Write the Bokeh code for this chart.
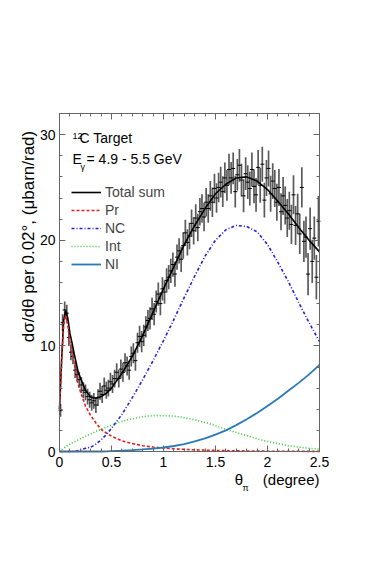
from math import pi
from bokeh.plotting import figure
from bokeh.models import (Range1d, LinearAxis, SingleIntervalTicker, Label,
                          Legend, LegendItem)
from bokeh.embed import file_html
from bokeh.resources import INLINE

FONT = "Liberation Sans"

# ---------------- data ----------------
x_tick_vals = [0, 0.5, 1, 1.5, 2, 2.5]
x_tick_labels = ["0", "0.5", "1", "1.5", "2", "2.5"]
y_tick_vals = [0, 10, 20, 30]
y_tick_labels = ["0", "10", "20", "30"]
x_lim = (0, 2.5)
y_lim = (0, 32)

bin_width = 0.02
data_val = [
    3.9, 12.2, 13.4, 13.1, 10.8, 9.4, 9.0, 7.7, 7.3, 6.8,
    6.3, 5.8, 5.6, 5.2, 4.9, 4.6, 4.8, 4.4, 5.1, 5.7,
    5.4, 6.2, 5.8, 6.0, 6.6, 6.4, 6.9, 7.5, 6.9, 7.8,
    7.5, 8.4, 8.1, 7.7, 9.0, 9.3, 8.6, 10.3, 10.9, 10.4,
    11.0, 11.8, 12.4, 12.6, 13.5, 13.0, 14.2, 14.9, 14.0, 15.4,
    15.1, 16.2, 16.5, 17.1, 17.7, 16.8, 18.4, 19.0, 18.2, 19.5,
    20.7, 19.8, 20.4, 21.6, 20.9, 22.1, 21.2, 22.7, 23.0, 22.2,
    23.6, 23.0, 24.2, 23.6, 24.9, 24.0, 25.0, 25.5, 24.6, 25.9,
    25.2, 26.7, 25.9, 26.8, 24.6, 26.2, 27.1, 25.7, 24.2, 26.3,
    25.5, 24.9, 26.7, 25.1, 24.3, 26.9, 25.2, 27.2, 23.8, 25.9,
    26.8, 24.4, 25.6, 24.9, 23.6, 25.0, 22.7, 24.2, 23.3, 22.1,
    22.8, 21.5, 24.3, 21.4, 22.5, 20.6, 25.0, 19.9, 20.3, 16.8,
    21.1, 18.0, 20.2, 16.5, 21.8,
]
data_err = [
    0.6, 0.8, 0.8, 0.8, 0.8, 0.75, 0.75, 0.75, 0.75, 0.75,
    0.75, 0.75, 0.75, 0.75, 0.75, 0.75, 0.75, 0.75, 0.8, 0.8,
    0.8, 0.8, 0.8, 0.8, 0.85, 0.85, 0.85, 0.85, 0.85, 0.9,
    0.9, 0.9, 0.9, 0.9, 0.95, 0.95, 0.95, 0.95, 1.0, 1.0,
    1.0, 1.0, 1.0, 1.05, 1.05, 1.05, 1.05, 1.1, 1.1, 1.1,
    1.1, 1.15, 1.15, 1.15, 1.15, 1.2, 1.2, 1.2, 1.2, 1.25,
    1.25, 1.25, 1.25, 1.3, 1.3, 1.3, 1.3, 1.3, 1.35, 1.35,
    1.35, 1.35, 1.4, 1.4, 1.4, 1.4, 1.4, 1.45, 1.45, 1.45,
    1.45, 1.5, 1.5, 1.5, 1.5, 1.5, 1.55, 1.55, 1.55, 1.55,
    1.6, 1.6, 1.6, 1.6, 1.6, 1.65, 1.65, 1.65, 1.65, 1.7,
    1.7, 1.7, 1.7, 1.75, 1.75, 1.75, 1.75, 1.8, 1.8, 1.8,
    1.8, 1.85, 1.85, 1.85, 1.9, 1.9, 1.9, 1.95, 1.95, 2.0,
    2.0, 2.05, 2.05, 2.1, 2.4,
]

curve_x = [0, 0.02, 0.04, 0.06, 0.08, 0.10, 0.12, 0.14, 0.16, 0.18, 0.20,
           0.25, 0.30, 0.35, 0.40, 0.45, 0.50, 0.6, 0.7, 0.8, 0.9, 1.0,
           1.1, 1.2, 1.3, 1.4, 1.5, 1.6, 1.7, 1.8, 1.9, 2.0, 2.1, 2.2,
           2.3, 2.4, 2.5]
total_sum = [4.0, 8.6, 12.4, 13.35, 12.6, 11.2, 10.3, 9.3, 8.4, 7.5, 7.0,
             5.8, 5.15, 5.05, 5.2, 5.5, 6.0, 7.4, 9.0, 11.0, 13.2, 15.4,
             17.5, 19.6, 21.4, 23.0, 24.4, 25.3, 25.9, 26.0, 25.6, 24.8,
             23.7, 22.5, 21.2, 20.0, 18.9]
pr = [4.0, 8.4, 12.0, 12.9, 11.9, 10.4, 9.4, 8.4, 7.4, 6.4, 5.7,
      4.3, 3.4, 2.7, 2.1, 1.75, 1.45, 1.0, 0.75, 0.55, 0.42, 0.33,
      0.26, 0.2, 0.16, 0.13, 0.1, 0.08, 0.06, 0.05, 0.04, 0.03, 0.03,
      0.02, 0.02, 0.01, 0.01]
nc = [0, 0, 0, 0, 0, 0, 0, 0.02, 0.05, 0.1, 0.15,
      0.3, 0.4, 0.7, 1.1, 1.6, 2.2, 3.5, 5.1, 6.8, 8.6, 10.5,
      12.5, 14.6, 16.6, 18.5, 20.0, 21.0, 21.4, 21.3, 20.8, 19.6,
      17.9, 16.1, 14.1, 12.2, 10.4]
intf = [0, 0.15, 0.3, 0.45, 0.6, 0.7, 0.8, 0.9, 1.0, 1.1, 1.2,
        1.45, 1.65, 1.9, 2.1, 2.3, 2.5, 2.85, 3.1, 3.3, 3.4, 3.4,
        3.35, 3.2, 3.0, 2.75, 2.45, 2.1, 1.8, 1.5, 1.2, 0.95,
        0.75, 0.55, 0.42, 0.3, 0.22]
ni = [0, 0, 0, 0, 0, 0, 0, 0, 0, 0, 0,
      0, 0, 0, 0, 0.02, 0.04, 0.08, 0.13, 0.2, 0.28, 0.38,
      0.52, 0.7, 0.95, 1.25, 1.6, 2.0, 2.5, 3.05, 3.65, 4.3,
      5.0, 5.75, 6.5, 7.3, 8.2]

data_x = [bin_width * (i + 0.5) for i in range(len(data_val))]
data_lo = [v - e for v, e in zip(data_val, data_err)]
data_hi = [v + e for v, e in zip(data_val, data_err)]

# ---------------- layout (pixels) ----------------
W, H = 358, 565
PX_X = 104.0      # pixels per degree
PX_Y = 10.5625    # pixels per unit
LEFT, TOP = 59, 113
xr = Range1d(x_lim[0] - LEFT / PX_X, x_lim[0] + (W - LEFT) / PX_X)
yr = Range1d(y_lim[1] - (H - TOP) / PX_Y, y_lim[1] + TOP / PX_Y)

p = figure(width=W, height=H, x_range=xr, y_range=yr,
           x_axis_location=None, y_axis_location=None,
           output_backend="svg", toolbar_location=None,
           min_border=0, background_fill_color="white",
           border_fill_color="white")
p.grid.visible = False
p.outline_line_alpha = 0

AX = "#666666"


def make_axis(side, loc, interval, vals, labels, show):
    ax = LinearAxis(ticker=SingleIntervalTicker(interval=interval,
                                                num_minor_ticks=5),
                    fixed_location=loc,
                    bounds=x_lim if side in ("below", "above") else y_lim)
    ax.axis_line_color = AX
    ax.major_tick_line_color = AX
    ax.minor_tick_line_color = AX
    ax.major_tick_in = 6
    ax.major_tick_out = 0
    ax.minor_tick_in = 3
    ax.minor_tick_out = 0
    ax.major_label_text_font = FONT
    ax.major_label_text_font_size = "14px"
    ax.major_label_text_color = "black"
    ax.major_label_overrides = dict(zip(vals, labels))
    ax.major_label_standoff = 5 if side == "below" else 4
    if not show:
        ax.major_label_text_alpha = 0
    p.add_layout(ax, side)


make_axis("below", y_lim[0], 0.5, x_tick_vals, x_tick_labels, True)
make_axis("above", y_lim[1], 0.5, x_tick_vals, x_tick_labels, False)
make_axis("left", x_lim[0], 10, y_tick_vals, y_tick_labels, True)
make_axis("right", x_lim[1], 10, y_tick_vals, y_tick_labels, False)

# data points with error bars
p.segment(x0=data_x, y0=data_lo, x1=data_x, y1=data_hi,
          line_color="#5a5a5a", line_width=1.7)
p.scatter(data_x, data_val, marker="dash", size=4, line_color="black",
          line_width=1)

# model curves
r_tot = p.line(curve_x, total_sum, line_color="black", line_width=1.6)
r_pr = p.line(curve_x, pr, line_color="#e02020", line_width=1.6,
              line_dash="3 2")
r_nc = p.line(curve_x, nc, line_color="#2020e0", line_width=1.6,
              line_dash="3 2 1 2")
r_int = p.line(curve_x, intf, line_color="#33cc33", line_width=1.6,
               line_dash="1 2")
r_ni = p.line(curve_x, ni, line_color="#2a7ab8", line_width=1.8)

legend = Legend(items=[LegendItem(label="Total sum", renderers=[r_tot]),
                       LegendItem(label="Pr", renderers=[r_pr]),
                       LegendItem(label="NC", renderers=[r_nc]),
                       LegendItem(label="Int", renderers=[r_int]),
                       LegendItem(label="NI", renderers=[r_ni])],
                location=(LEFT + 12, H - TOP - 338 + 178), glyph_width=30,
                glyph_height=18, label_height=18, spacing=0, padding=0,
                margin=0, label_standoff=4, label_text_font=FONT,
                label_text_font_size="14px", border_line_alpha=0,
                background_fill_alpha=0)
p.add_layout(legend)


def lab(x, y, text, size, **kw):
    p.add_layout(Label(x=x, y=y, text=text, text_font=FONT,
                       text_font_size=size, text_color="black", **kw))


# annotations in the plot
lab(0.125, 29.63, "12", "9px")
lab(0.192, 28.97, "C Target", "14px")
lab(0.125, 26.89, "E", "14px")
lab(0.202, 26.5, "γ", "9px")
lab(0.26, 26.89, "= 4.9 - 5.5 GeV", "14px")

# axis titles
lab(-0.2115, 32.6, "dσ/dθ  per  0.02°,    (μbarn/rad)", "17px",
    angle=pi / 2, text_align="right")
lab(2.5, -3.41, "(degree)", "15px", text_align="right")
lab(1.686, -3.41, "θ", "15px")
lab(1.76, -3.9, "π", "9px")

open("out.html", "w").write(file_html(p, INLINE))
